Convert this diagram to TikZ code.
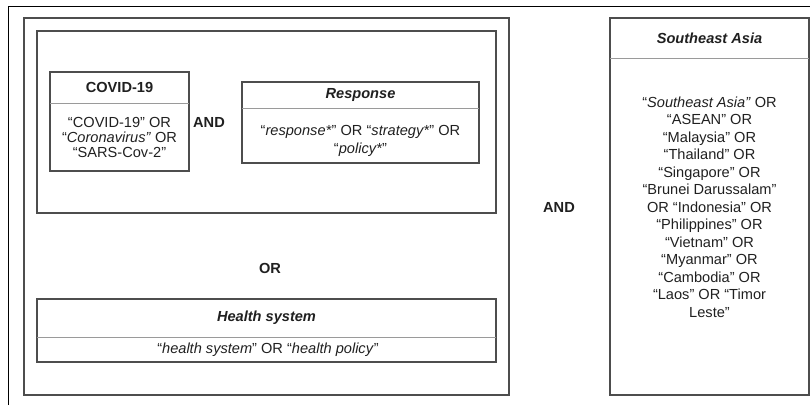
\documentclass[tikz,border=0pt]{standalone}
\usepackage{fontspec}
\setmainfont{Liberation Sans}
\definecolor{boxline}{HTML}{4D4D4D}
\definecolor{divline}{HTML}{9A9A9A}
\definecolor{txt}{HTML}{202020}
\tikzset{
  frame/.style={draw=black, line width=1pt},
  box/.style={draw=boxline, line width=1.2pt, rectangle, inner sep=0pt, outer sep=0pt},
  headbox/.style={rectangle, inner sep=0pt, outer sep=0pt, text=txt,
     font=\fontsize{14.6}{17.5}\selectfont\bfseries},
  bodytext/.style={align=center, inner sep=0pt, text=txt},
  divider/.style={draw=divline, line width=0.9pt},
  optext/.style={text=txt, font=\fontsize{14.6}{17.5}\selectfont\bfseries, inner sep=0pt},
}
\begin{document}
\begin{tikzpicture}[x=1pt,y=-1pt]
\useasboundingbox (0,0) rectangle (810,405);
% outer frame (cropped at right and bottom)
\draw[frame] (8,405) -- (8,6) -- (810,6);
% left big box
\node[box, minimum width=485pt, minimum height=377pt] (left) at (266.5,206.5) {};
% inner box
\node[box, minimum width=459pt, minimum height=182pt] (inner) at (266.5,122) {};
% COVID-19 box
\node[box, minimum width=139pt, minimum height=99pt] (covid) at (119.5,121.5) {};
\node[headbox, minimum width=139pt, minimum height=31pt, anchor=north] (covidhead) at (covid.north) {COVID-19};
\draw[divider] (covidhead.south west) -- (covidhead.south east);
\node[bodytext, font=\fontsize{14.6}{15.3}\selectfont] (covidbody) at (119.5,137.5)
  {“COVID-19” OR\\“\textit{Coronavirus”} OR\\“SARS-Cov-2”};
% AND between
\node[optext] (and1) at (209,122) {AND};
% Response box
\node[box, minimum width=237pt, minimum height=81pt] (resp) at (360.5,122.5) {};
\node[headbox, minimum width=237pt, minimum height=26pt, anchor=north] (resphead) at (resp.north) {\textit{Response}};
\draw[divider] (resphead.south west) -- (resphead.south east);
\node[bodytext, font=\fontsize{14.6}{18.3}\selectfont] (respbody) at (360.5,141)
  {“\textit{response*}” OR “\textit{strategy*}” OR\\“\textit{policy*}”};
% OR
\node[optext] (or) at (270,268) {OR};
% Health system box
\node[box, minimum width=459pt, minimum height=63pt] (health) at (266.5,330.5) {};
\node[headbox, minimum width=459pt, minimum height=38pt, anchor=north] (healthhead) at (health.north) {\textit{Health system}};
\draw[divider] (healthhead.south west) -- (healthhead.south east);
\node[bodytext, font=\fontsize{14.6}{17.5}\selectfont] (healthbody) at (268,349.5)
  {“\textit{health system}” OR “\textit{health policy}”};
% AND right
\node[optext] (and2) at (559,207) {AND};
% Southeast Asia box
\node[box, minimum width=199pt, minimum height=377pt] (sea) at (709.5,206.5) {};
\node[headbox, minimum width=199pt, minimum height=40pt, anchor=north] (seahead) at (sea.north) {\textit{Southeast Asia}};
\draw[divider] (seahead.south west) -- (seahead.south east);
\node[bodytext, font=\fontsize{14.6}{17.5}\selectfont] (seabody) at (709.5,207)
  {“\textit{Southeast Asia”} OR\\“ASEAN” OR\\“Malaysia” OR\\“Thailand” OR\\“Singapore” OR\\“Brunei Darussalam”\\OR “Indonesia” OR\\“Philippines” OR\\“Vietnam” OR\\“Myanmar” OR\\“Cambodia” OR\\“Laos” OR “Timor\\Leste”};
\end{tikzpicture}
\end{document}
